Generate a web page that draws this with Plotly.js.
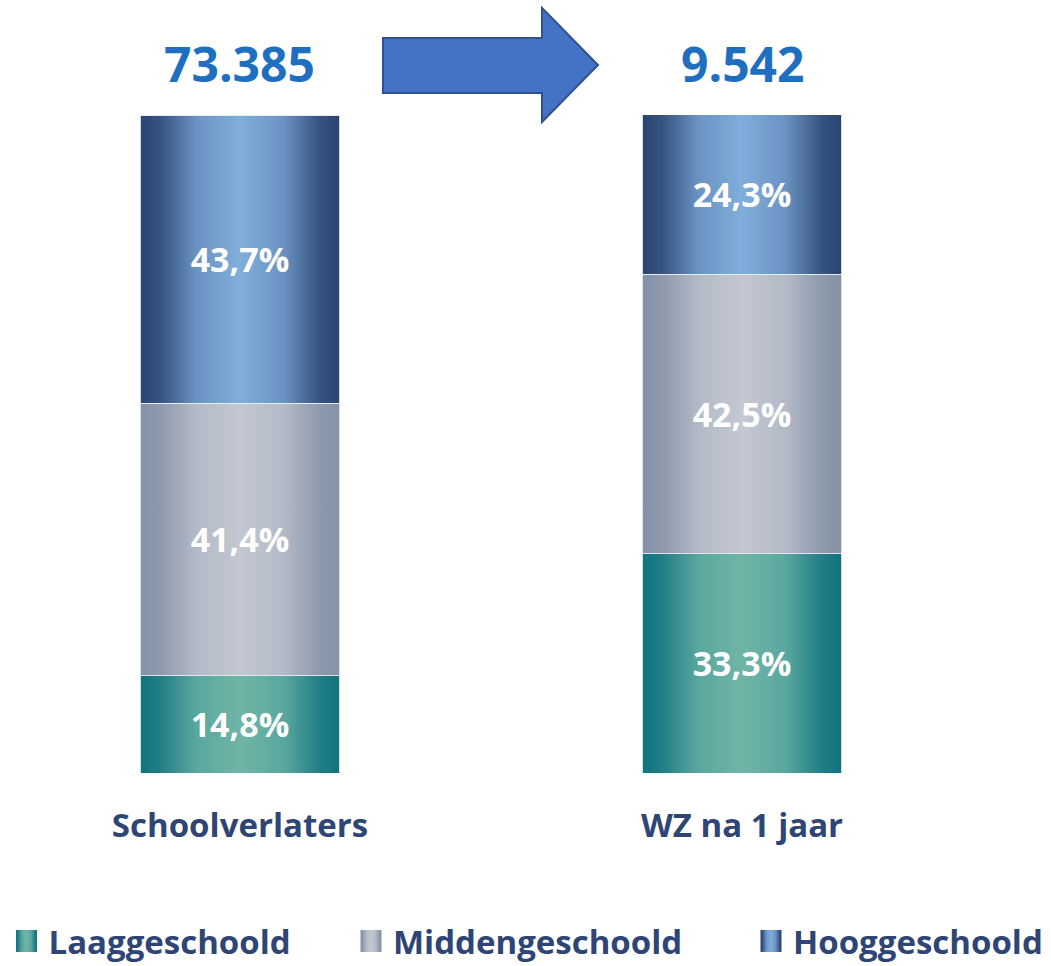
<!DOCTYPE html>
<html>
<head>
<meta charset="utf-8">
<script src="https://cdn.plot.ly/plotly-3.0.1.min.js"></script>
<style>html,body{margin:0;padding:0;background:#fff;}#chart{width:1051px;height:966px;}</style>
</head>
<body>
<div id="chart"></div>
<script>
// ---- data ----
const categories = ['Schoolverlaters', 'WZ na 1 jaar'];
const totals = ['73.385', '9.542'];
const levels = ['Laaggeschoold', 'Middengeschoold', 'Hooggeschoold'];
const laag = [14.8, 33.3];
const midden = [41.4, 42.5];
const hoog = [43.7, 24.3];
const seriesValues = [laag, midden, hoog];

// gradient stops per level (edge -> centre -> edge)
const gradients = [
  [['0', '#0f7381'], ['0.10', '#217d86'], ['0.28', '#5aa79e'], ['0.5', '#6fb5a7'], ['0.72', '#5aa79e'], ['0.90', '#217d86'], ['1', '#0f7381']],
  [['0', '#8592a6'], ['0.10', '#8d99ac'], ['0.28', '#b3bac7'], ['0.5', '#c3c8d2'], ['0.72', '#b3bac7'], ['0.90', '#8d99ac'], ['1', '#8592a6']],
  [['0', '#2b4371'], ['0.10', '#36537f'], ['0.28', '#6a93c2'], ['0.5', '#80aedb'], ['0.72', '#6a93c2'], ['0.90', '#36537f'], ['1', '#2b4371']]
];
const baseColors = ['#5aa79e', '#b3bac7', '#6a93c2'];

const fmt = v => v.toFixed(1).replace('.', ',') + '%';
const FONT = '"Open Sans", "Noto Sans", sans-serif';
const NAVY = '#2e4575';

const traces = levels.map((name, i) => ({
  type: 'bar',
  name: name,
  x: categories,
  y: seriesValues[i],
  width: 0.398,
  marker: { color: baseColors[i], line: { color: 'rgba(230,236,244,0.9)', width: 1 } },
  text: seriesValues[i].map(fmt),
  textposition: 'inside',
  insidetextanchor: 'middle',
  textfont: { family: FONT, size: 34, color: '#ffffff', weight: 700 },
  hoverinfo: 'none'
}));

const PW = 1051, T = 115, B = 773, H = B - T;
const px = x => x / PW;
const py = y => (B - y) / H;

const arrowPath = 'M' + px(383) + ',' + py(38) + ' L' + px(542) + ',' + py(38) + ' L' + px(542) + ',' + py(8) +
  ' L' + px(598) + ',' + py(65) + ' L' + px(542) + ',' + py(122) + ' L' + px(542) + ',' + py(93) +
  ' L' + px(383) + ',' + py(93) + ' Z';

const layout = {
  width: 1051,
  height: 966,
  paper_bgcolor: '#ffffff',
  plot_bgcolor: '#ffffff',
  margin: { l: 0, r: 0, t: T, b: 966 - B, autoexpand: false },
  barmode: 'stack',
  showlegend: true,
  font: { family: FONT, color: NAVY },
  xaxis: {
    type: 'category',
    range: [-0.478, 1.6155],
    showgrid: false, zeroline: false, showline: false,
    ticks: '',
    tickfont: { family: FONT, size: 33, color: NAVY, weight: 700 },
    ticklabelstandoff: 30,
    fixedrange: true
  },
  yaxis: {
    range: [0, 100],
    visible: false,
    fixedrange: true
  },
  legend: {
    orientation: 'h',
    x: 0, xanchor: 'left',
    y: py(913), yanchor: 'top',
    traceorder: 'normal',
    font: { family: FONT, size: 33, color: NAVY, weight: 700 },
    bgcolor: 'rgba(0,0,0,0)'
  },
  shapes: [{
    type: 'path', xref: 'paper', yref: 'paper', path: arrowPath,
    fillcolor: '#4472c4', line: { color: '#2f528f', width: 2 }, layer: 'above'
  }],
  annotations: categories.map((c, i) => ({
    x: c, xref: 'x', y: py(63), yref: 'paper',
    text: totals[i], showarrow: false,
    xanchor: 'center', yanchor: 'middle',
    font: { family: FONT, size: 48, color: '#1f6fc0', weight: 700 }
  }))
};

// legend symbol centres (px) as in the original layout
const legendSymbolCentres = [26.5, 371, 771];

const gd = document.getElementById('chart');
Plotly.newPlot(gd, traces, layout, { displayModeBar: false, staticPlot: true }).then(applyStyling);

function applyStyling() {
  const ns = 'http://www.w3.org/2000/svg';
  const svg = gd.querySelector('svg.main-svg');
  let defs = svg.querySelector('defs');
  if (!defs) { defs = document.createElementNS(ns, 'defs'); svg.insertBefore(defs, svg.firstChild); }
  gradients.forEach((stops, i) => {
    const g = document.createElementNS(ns, 'linearGradient');
    g.setAttribute('id', 'lvlgrad' + i);
    g.setAttribute('x1', '0'); g.setAttribute('y1', '0');
    g.setAttribute('x2', '1'); g.setAttribute('y2', '0');
    stops.forEach(s => {
      const st = document.createElementNS(ns, 'stop');
      st.setAttribute('offset', s[0]);
      st.setAttribute('stop-color', s[1]);
      g.appendChild(st);
    });
    defs.appendChild(g);
  });
  gd.querySelectorAll('.barlayer .trace').forEach((tr, i) => {
    tr.querySelectorAll('.point path').forEach(p => { p.style.fill = 'url(#lvlgrad' + i + ')'; });
  });
  const sb = gd.querySelector('.legend .scrollbox');
  if (sb) sb.removeAttribute('clip-path');
  const lg = gd.querySelector('.legend');
  if (lg) lg.removeAttribute('clip-path');
  gd.querySelectorAll('.legend .traces').forEach((tr, i) => {
    const pth = tr.querySelector('.legendpoints path');
    if (!pth) return;
    pth.setAttribute('d', 'M10.5,11H-10.5V-11H10.5Z');
    pth.style.fill = 'url(#lvlgrad' + i + ')';
    pth.style.stroke = 'none';
    const r = pth.getBoundingClientRect();
    const cx = (r.left + r.right) / 2;
    const dx = legendSymbolCentres[i] - cx;
    const t = tr.getAttribute('transform') || '';
    const m = t.match(/translate\(\s*([-\d.e]+)[ ,]+([-\d.e]+)\s*\)/);
    const a = m ? parseFloat(m[1]) : 0, b = m ? parseFloat(m[2]) : 0;
    tr.setAttribute('transform', 'translate(' + (a + dx) + ',' + b + ')');
    const txt = tr.querySelector('text.legendtext');
    if (txt) txt.setAttribute('x', parseFloat(txt.getAttribute('x') || 40) + 2);
  });
}
</script>
</body>
</html>
